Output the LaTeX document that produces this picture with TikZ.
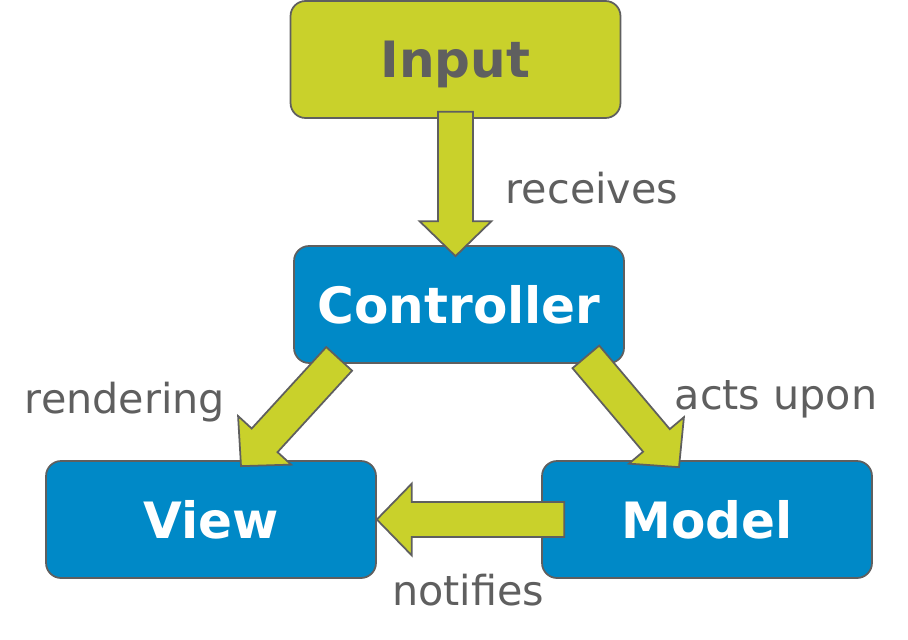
\documentclass[tikz,border=0pt]{standalone}
\usepackage{fontspec}
\setmainfont{DejaVu Sans}
\usepackage{tikz}
\usetikzlibrary{calc,positioning}

\definecolor{mvcgreen}{HTML}{C9D12B}
\definecolor{mvcblue}{HTML}{0089C7}
\definecolor{mvcgray}{HTML}{5F5F5F}

\tikzset{
  box/.style={draw=mvcgray, line width=1pt, rounded corners=0.3cm,
    minimum width=6.6cm, minimum height=2.34cm, inner sep=0pt, text depth=0pt,
    font=\fontsize{28.5}{30}\selectfont\bfseries},
  lbl/.style={text=mvcgray, inner sep=0pt, text depth=0pt, font=\fontsize{23.5}{25}\selectfont},
  blockarrow/.style={draw=mvcgray, fill=mvcgreen, line width=1pt, line join=miter}
}

% block arrow from #1 (tail) to #2 (tip)
\newcommand{\blockarrow}[2]{%
  \coordinate (hb) at ($(#2)!0.7cm!(#1)$);
  \draw[blockarrow] ($(#1)!0.35cm!90:(hb)$) -- ($(hb)!0.35cm!-90:(#1)$)
    -- ($(hb)!0.72cm!-90:(#1)$) -- (#2) -- ($(hb)!0.72cm!90:(#1)$)
    -- ($(hb)!0.35cm!90:(#1)$) -- ($(#1)!0.35cm!-90:(hb)$) -- cycle;}

\begin{document}
\begin{tikzpicture}[x=0.02cm, y=-0.02cm]
\useasboundingbox (0,0) rectangle (908,639);

\node[box, fill=mvcgreen, text=mvcgray] (input) at (455.5,59.5) {Input};
\node[box, fill=mvcblue, text=white] (controller) at (459,304.5) {Controller};
\node[box, fill=mvcblue, text=white] (view) at (211,519.5) {View};
\node[box, fill=mvcblue, text=white] (model) at (707,519.5) {Model};

\coordinate (receivesTail) at ($(input.south)+(0,-7)$);
\coordinate (receivesTip) at ($(controller.north)+(-3.5,11)$);
\coordinate (renderTail) at ($(controller.south west)+(46,-5)$);
\coordinate (renderTip) at ($(view.north)+(30,6)$);
\coordinate (actsTail) at ($(controller.south east)+(-39,-7)$);
\coordinate (actsTip) at ($(model.north)+(-28,7)$);
\coordinate (notifiesTail) at ($(model.west)+(23,0)$);

\blockarrow{receivesTail}{receivesTip}
\blockarrow{renderTail}{renderTip}
\blockarrow{actsTail}{actsTip}
\blockarrow{notifiesTail}{view.east}

\node[lbl] (receives) at (592,188) {receives};
\node[lbl] (rendering) at (125,398) {rendering};
\node[lbl] (acts) at (776,395) {acts upon};
\node[lbl] (notifies) at (468,590) {notifies};
\end{tikzpicture}
\end{document}
